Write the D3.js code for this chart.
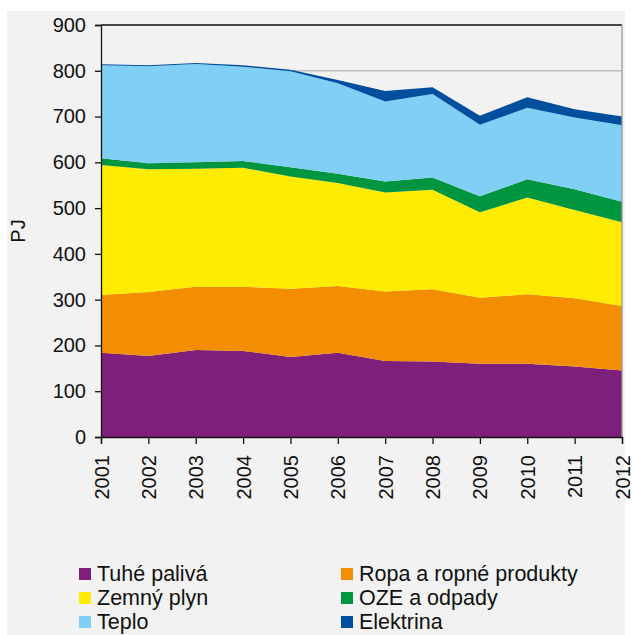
<!DOCTYPE html>
<html><head><meta charset="utf-8">
<script src="https://cdn.jsdelivr.net/npm/d3@7"></script>
<style>
html,body{margin:0;padding:0;background:#fff;}
svg{display:block;font-family:"Liberation Sans",Arial,sans-serif;}
</style></head>
<body>
<svg id="chart" width="632" height="635"></svg>
<script>
const years = [2001,2002,2003,2004,2005,2006,2007,2008,2009,2010,2011,2012];
const seriesNames = ["Tuhé palivá","Ropa a ropné produkty","Zemný plyn","OZE a odpady","Teplo","Elektrina"];
const tuhePaliva = [184,177,190,188,175,184,166,165,160,160,154,145];
const ropa       = [126,140,138,140,149,146,152,158,144,152,149,141];
const zemnyPlyn  = [284,268,258,260,245,225,216,217,187,211,193,183];
const oze        = [15,13,14,15,20,20,24,27,35,40,45,45];
const teplo      = [203,212,215,206,210,198,175,182,156,156,157,167];
const elektrina  = [2,2,2,3,3,7,23,15,20,23,18,19];
const yTicks = [0,100,200,300,400,500,600,700,800,900];
const colors = ["#7f1f7c","#f28e00","#ffec00","#00953f","#80cff4","#004f9f"];

const seriesValues = [tuhePaliva, ropa, zemnyPlyn, oze, teplo, elektrina];
const rows = years.map((yr,i)=>{
  const r = {year: yr};
  seriesNames.forEach((n,k)=> r[n] = seriesValues[k][i]);
  return r;
});

const svg = d3.select("#chart");
// panel
svg.append("rect").attr("x",7).attr("y",11).attr("width",618).attr("height",624).attr("fill","#f2f2f2");

const x = d3.scaleLinear().domain([2001,2012]).range([101,622]);
const y = d3.scaleLinear().domain([0,900]).range([437,25]);

// gridlines
svg.append("g").selectAll("line").data(yTicks.filter(d=>d>0 && d<900)).join("line")
  .attr("x1",101).attr("x2",622).attr("y1",d=>y(d)).attr("y2",d=>y(d))
  .attr("stroke","#c0c0c0").attr("stroke-width",1.5);

const stack = d3.stack().keys(seriesNames);
const layers = stack(rows);
const area = d3.area().x(d=>x(d.data.year)).y0(d=>y(d[0])).y1(d=>y(d[1]));
svg.append("g").selectAll("path").data(layers).join("path")
  .attr("d",area).attr("fill",(d,i)=>colors[i]);

// frame: top black, right grey
svg.append("line").attr("x1",101).attr("x2",622).attr("y1",y(900)).attr("y2",y(900)).attr("stroke","#111").attr("stroke-width",1.3);
svg.append("line").attr("x1",622).attr("x2",622).attr("y1",y(900)).attr("y2",y(0)).attr("stroke","#999").attr("stroke-width",1.3);

// y axis
const yAxis = d3.axisLeft(y).tickValues(yTicks).tickSize(6).tickPadding(9).tickFormat(d3.format("d"));
const gy = svg.append("g").attr("transform","translate(101,0)").call(yAxis);
gy.select(".domain").attr("stroke","#111").attr("stroke-width",1.3);
gy.selectAll(".tick line").attr("stroke","#111").attr("stroke-width",1.3);
gy.selectAll("text").attr("font-size",20).attr("fill","#111").attr("font-family","'Liberation Sans',Arial,sans-serif");

// x axis
const xAxis = d3.axisBottom(x).tickValues(years).tickSize(7).tickFormat(d3.format("d"));
const gx = svg.append("g").attr("transform","translate(0,437)").call(xAxis);
gx.select(".domain").attr("stroke","#111").attr("stroke-width",1.3);
gx.selectAll(".tick line").attr("stroke","#111").attr("stroke-width",1.3);
gx.selectAll("text").attr("font-size",20).attr("fill","#111").attr("font-family","'Liberation Sans',Arial,sans-serif")
  .attr("transform","rotate(-90)").attr("text-anchor","end").attr("x",-18).attr("y",0).attr("dy","0.35em");

// y label
svg.append("text").attr("transform","translate(18,231) rotate(-90)").attr("text-anchor","middle")
  .attr("dy","0.35em").attr("font-size",20).attr("fill","#111").text("PJ");

// legend
const lg = svg.append("g");
const legendPos = seriesNames.map((n,i)=>({name:n, color:colors[i], col:i%2, row:Math.floor(i/2)}));
const item = lg.selectAll("g").data(legendPos).join("g")
  .attr("transform",d=>`translate(${d.col? 341:79},${568+d.row*24})`);
item.append("rect").attr("width",12).attr("height",12).attr("fill",d=>d.color);
item.append("text").attr("x",18).attr("y",13).attr("font-size",21.5).attr("fill","#111").text(d=>d.name);
</script>
</body></html>
